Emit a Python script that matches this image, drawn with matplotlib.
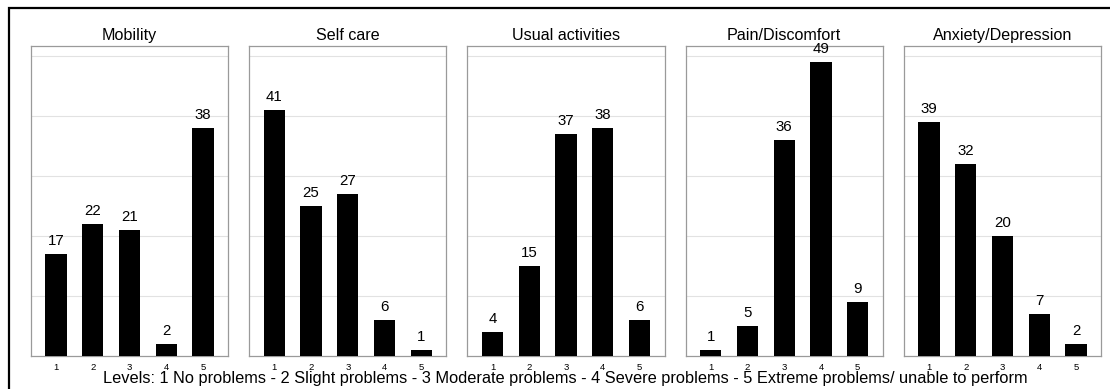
import matplotlib.pyplot as plt
from matplotlib.patches import Rectangle

plt.rcParams['font.family'] = ['Liberation Sans', 'DejaVu Sans']

# data
levels = [1, 2, 3, 4, 5]
titles = ['Mobility', 'Self care', 'Usual activities', 'Pain/Discomfort',
          'Anxiety/Depression']
mobility = [17, 22, 21, 2, 38]
self_care = [41, 25, 27, 6, 1]
usual_activities = [4, 15, 37, 38, 6]
pain_discomfort = [1, 5, 36, 49, 9]
anxiety_depression = [39, 32, 20, 7, 2]
series = [mobility, self_care, usual_activities, pain_discomfort,
          anxiety_depression]
footer = ('Levels: 1 No problems - 2 Slight problems - 3 Moderate problems - '
          '4 Severe problems - 5 Extreme problems/ unable to perform')

W, H = 1110, 389
fig = plt.figure(figsize=(W / 100, H / 100), dpi=100)

# outer frame
fig.patches.append(Rectangle((9 / W, -0.05), 1.2, (H - 8) / H + 0.05,
                             transform=fig.transFigure, fill=False,
                             edgecolor='black', linewidth=1.6))

left0, step, pw = 31, 218.25, 197
bottom, top = 356, 46
for i, (title, vals) in enumerate(zip(titles, series)):
    ax = fig.add_axes([(left0 + i * step) / W, (H - bottom) / H,
                       pw / W, (bottom - top) / H])
    ax.bar(levels, vals, width=0.58, color='black', zorder=3)
    for x, v in zip(levels, vals):
        ax.text(x, v + 1.0, str(v), ha='center', va='bottom', fontsize=10.8)
    ax.set_xlim(0.32, 5.68)
    ax.set_ylim(0, 51.7)
    ax.set_yticks([10, 20, 30, 40, 50])
    ax.set_yticklabels([])
    ax.set_xticks(levels)
    ax.set_xticklabels([str(l) for l in levels], fontsize=6.8)
    ax.tick_params(length=0, pad=5)
    ax.grid(axis='y', color='#e2e2e2', linewidth=0.8, zorder=0)
    for s in ax.spines.values():
        s.set_color('#9a9a9a')
        s.set_linewidth(0.9)
    ax.set_title(title, fontsize=11.6, pad=4)

fig.text(565 / W, (H - 379) / H, footer, ha='center', va='center',
         fontsize=11.8)

plt.savefig('out.png', dpi=100)
